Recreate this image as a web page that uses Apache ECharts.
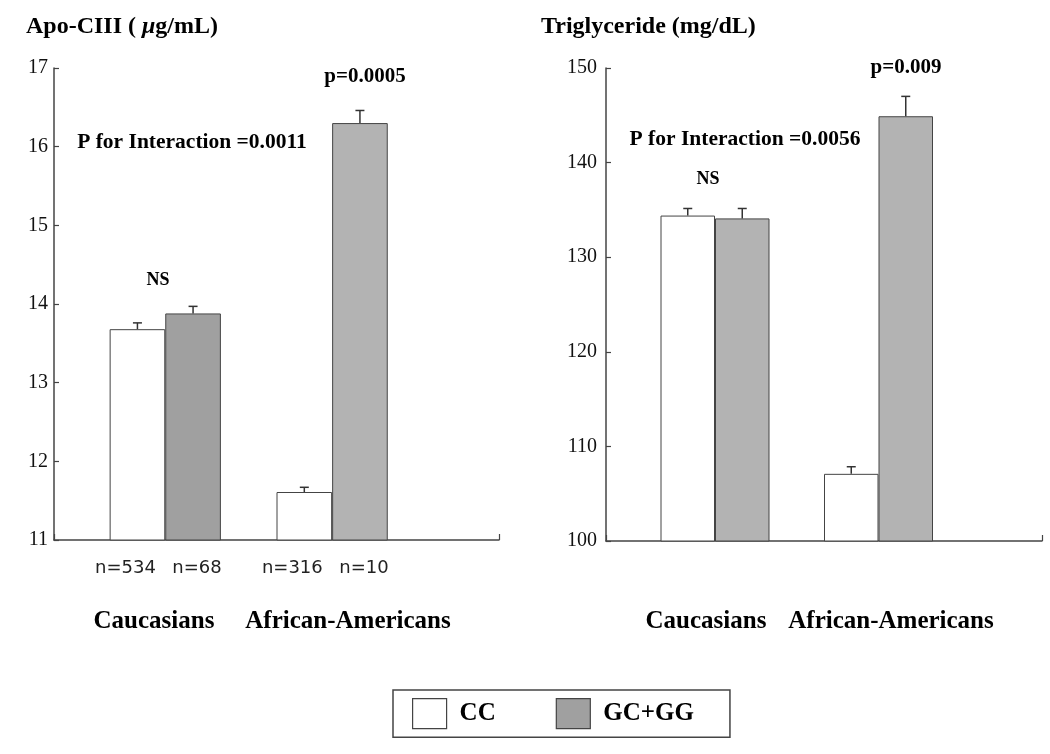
<!DOCTYPE html>
<html lang="en">
<head>
    <meta charset="UTF-8">
    <title>Apo-CIII and Triglyceride by genotype</title>
    <script src="https://cdn.jsdelivr.net/npm/echarts@6/dist/echarts.min.js"></script>
    <style type="text/css">
        html, body { margin: 0; padding: 0; background: #fff; }
        #main { width: 1050px; height: 754px; }
    </style>
</head>
<body>
<div id="main"></div>
<script>
    // values
    var groups = ['Caucasians', 'African-Americans'];
    var genotypes = ['CC', 'GC+GG'];
    var nCC = [534, 316];
    var nGC = [68, 10];

    var apoCC = [13.68, 11.61];
    var apoCCse = [0.08, 0.06];
    var apoGC = [13.88, 16.30];
    var apoGCse = [0.09, 0.16];

    var tgCC = [134.4, 107.1];
    var tgCCse = [0.75, 0.75];
    var tgGC = [134.1, 144.9];
    var tgGCse = [1.05, 2.1];

    var apoTicks = [11, 17, 1];
    var tgTicks = [100, 150, 10];

    // layout: 8 slots per panel, CC in slot 1/4, GC in slot 2/5
    var slots = ['0', '1', '2', '3', '4', '5', '6', '7'];
    var ccSlot = [1, 4];
    var gcSlot = [2, 5];
    var gcColors = [['#a0a0a0', '#b3b3b3'], ['#b3b3b3', '#b3b3b3']];

    var serif = '"Liberation Serif", "Times New Roman", serif';

    function slotData(vals, pos) {
        var out = slots.map(function () { return '-'; });
        pos.forEach(function (p, i) { out[p] = vals[i]; });
        return out;
    }

    function errData(vals, se, pos) {
        return pos.map(function (p, i) { return [p, vals[i], se[i]]; });
    }

    function renderErr(params, api) {
        var x = api.value(0), v = api.value(1), e = api.value(2);
        var base = api.coord([x, v]);
        var top = api.coord([x, v + e]);
        var style = {stroke: '#333', lineWidth: 1.5};
        return {
            type: 'group',
            children: [
                {type: 'line', shape: {x1: base[0], y1: base[1], x2: top[0], y2: top[1]}, style: style},
                {type: 'line', shape: {x1: top[0] - 4.5, y1: top[1], x2: top[0] + 4.5, y2: top[1]}, style: style}
            ]
        };
    }

    var nLabels = slots.map(function () { return ''; });
    ccSlot.forEach(function (p, i) { nLabels[p] = '{cc|n=' + nCC[i] + '}'; });
    gcSlot.forEach(function (p, i) { nLabels[p] = '{gc|n=' + nGC[i] + '}'; });

    function yAxis(idx, t, margin) {
        return {
            type: 'value', gridIndex: idx, min: t[0], max: t[1], interval: t[2],
            axisLine: {show: true, lineStyle: {color: '#444', width: 1.5}},
            axisTick: {show: true, inside: true, length: 5, lineStyle: {color: '#444', width: 1.2}},
            splitLine: {show: false},
            axisLabel: {color: '#111', fontFamily: serif, fontSize: 20, margin: margin}
        };
    }

    function xAxis(idx, showN) {
        return {
            type: 'category', gridIndex: idx, data: slots,
            axisLine: {show: true, lineStyle: {color: '#444', width: 1.5}},
            axisTick: {
                show: true, inside: true, length: 6, alignWithLabel: false,
                interval: function (i) { return i === slots.length - 1; },
                lineStyle: {color: '#444', width: 1.2}
            },
            axisLabel: {
                show: showN, interval: 0, margin: 19,
                formatter: function (v, i) { return nLabels[i]; },
                rich: {
                    cc: {fontFamily: '"DejaVu Sans", Verdana, sans-serif', fontSize: 18, color: '#222', padding: [0, 24, 0, 0]},
                    gc: {fontFamily: '"DejaVu Sans", Verdana, sans-serif', fontSize: 18, color: '#222', padding: [0, 0, 0, 8]}
                }
            }
        };
    }

    function barSeries(idx, name, vals, pos, colorFn) {
        return {
            name: name, type: 'bar', xAxisIndex: idx, yAxisIndex: idx,
            data: slotData(vals, pos),
            barGap: '-100%', barCategoryGap: '0%',
            itemStyle: {color: colorFn, borderColor: '#444', borderWidth: 1}
        };
    }

    function errSeries(idx, vals, se, pos) {
        return {
            type: 'custom', xAxisIndex: idx, yAxisIndex: idx,
            renderItem: renderErr, data: errData(vals, se, pos), z: 5
        };
    }

    function gcColorFor(panel) {
        return function (p) { return gcColors[panel][gcSlot.indexOf(p.dataIndex)] || '#b3b3b3'; };
    }

    function txt(x, y, s, size) {
        return {
            type: 'text', x: x, y: y,
            style: {
                text: s, fill: '#000', align: 'center', verticalAlign: 'middle',
                font: 'bold ' + size + 'px ' + serif
            }
        };
    }

    var chart = echarts.init(document.getElementById('main'));
    var option = {
        backgroundColor: '#fff',
        animation: false,
        title: [
            {
                text: 'Apo-CIII ( {mu|μ}g/mL)', left: 21, top: 10,
                textStyle: {
                    fontFamily: serif, fontSize: 24, fontWeight: 'bold', color: '#000',
                    rich: {mu: {fontFamily: serif, fontSize: 24, fontWeight: 'bold', fontStyle: 'italic', color: '#000'}}
                }
            },
            {
                text: 'Triglyceride (mg/dL)', left: 536, top: 10,
                textStyle: {fontFamily: serif, fontSize: 24, fontWeight: 'bold', color: '#000'}
            }
        ],
        legend: {
            left: 393, top: 690,
            padding: [8, 36, 8, 19],
            borderColor: '#444', borderWidth: 1.5,
            icon: 'rect',
            itemWidth: 34, itemHeight: 30, itemGap: 60,
            data: [
                {name: genotypes[0], itemStyle: {color: '#fff', borderColor: '#444', borderWidth: 1.2}},
                {name: genotypes[1], itemStyle: {color: '#a0a0a0', borderColor: '#444', borderWidth: 1.2}}
            ],
            textStyle: {fontFamily: serif, fontSize: 25, fontWeight: 'bold', color: '#000', padding: [0, 0, 0, 8]}
        },
        grid: [
            {left: 54, top: 68, width: 445, height: 472},
            {left: 606, top: 68, width: 436, height: 473}
        ],
        xAxis: [xAxis(0, true), xAxis(1, false)],
        yAxis: [yAxis(0, apoTicks, 6), yAxis(1, tgTicks, 9)],
        series: [
            barSeries(0, genotypes[0], apoCC, ccSlot, '#fff'),
            barSeries(0, genotypes[1], apoGC, gcSlot, gcColorFor(0)),
            errSeries(0, apoCC, apoCCse, ccSlot),
            errSeries(0, apoGC, apoGCse, gcSlot),
            barSeries(1, genotypes[0], tgCC, ccSlot, '#fff'),
            barSeries(1, genotypes[1], tgGC, gcSlot, gcColorFor(1)),
            errSeries(1, tgCC, tgCCse, ccSlot),
            errSeries(1, tgGC, tgGCse, gcSlot)
        ],
        graphic: [
            txt(365, 77, 'p=0.0005', 21),
            txt(192, 142, 'P for Interaction =0.0011', 21.5),
            txt(158, 280, 'NS', 18),
            txt(154, 622, groups[0], 25),
            txt(348, 622, groups[1], 25),
            txt(906, 68, 'p=0.009', 21),
            txt(745, 139, 'P for Interaction =0.0056', 21.5),
            txt(708, 179, 'NS', 18),
            txt(706, 622, groups[0], 25),
            txt(891, 622, groups[1], 25)
        ]
    };
    chart.setOption(option);
</script>
</body>
</html>
